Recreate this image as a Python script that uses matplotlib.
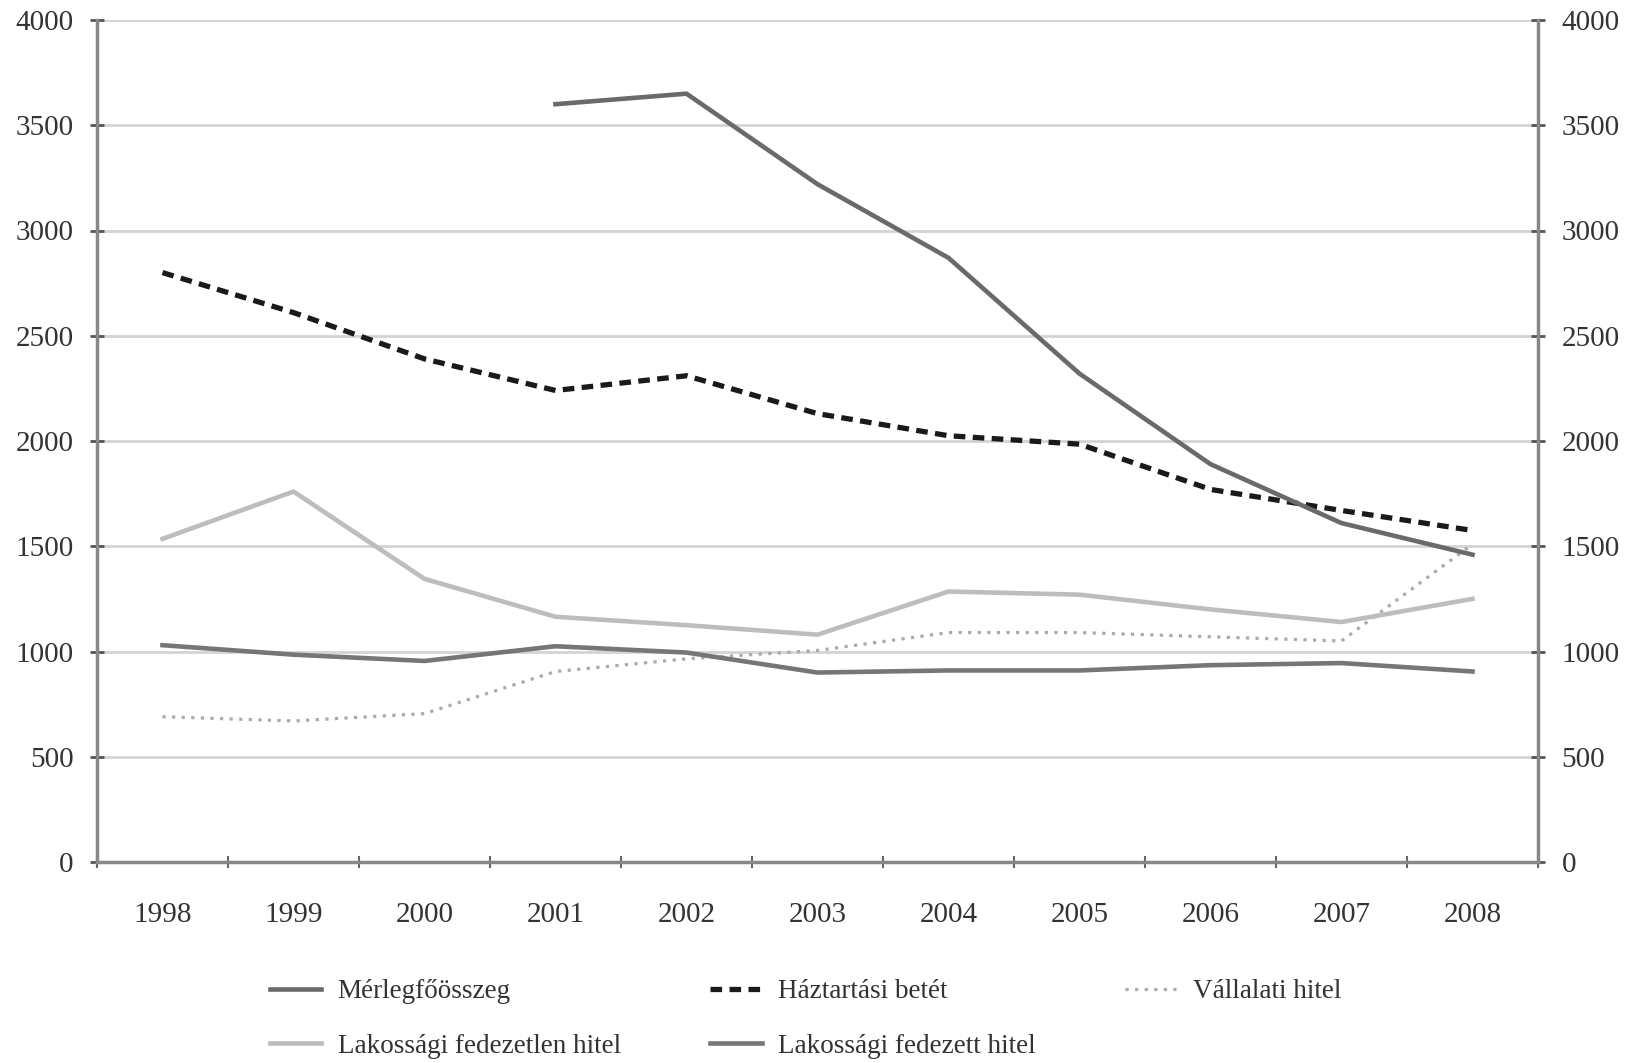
import numpy as np
import matplotlib
matplotlib.use("Agg")
import matplotlib.pyplot as plt
from matplotlib.ticker import FixedLocator

years = ["1998", "1999", "2000", "2001", "2002", "2003", "2004", "2005", "2006", "2007", "2008"]
merlegfoosszeg = [np.nan, np.nan, np.nan, 3600, 3650, 3220, 2870, 2320, 1890, 1610, 1460]
haztartasi_betet = [2800, 2610, 2390, 2240, 2310, 2130, 2025, 1985, 1770, 1670, 1575]
vallalati_hitel = [690, 670, 705, 905, 965, 1005, 1090, 1090, 1070, 1050, 1510]
fedezetlen_hitel = [1535, 1760, 1345, 1165, 1125, 1080, 1285, 1270, 1200, 1140, 1250]
fedezett_hitel = [1030, 985, 955, 1025, 995, 900, 910, 910, 935, 945, 905]

plt.rcParams["font.family"] = ["Liberation Serif", "DejaVu Serif"]

fig = plt.figure(figsize=(16.35, 10.63), dpi=100)
ax = fig.add_axes([97 / 1635, 1 - 862 / 1063, (1538 - 97) / 1635, (862 - 20) / 1063])

x = np.arange(len(years))
h_merleg, = ax.plot(x, merlegfoosszeg, color="#6a6a6a", lw=3.3, solid_joinstyle="round",
                    label="Mérlegfőösszeg", zorder=5)
h_betet, = ax.plot(x, haztartasi_betet, color="#1a1a1a", lw=3.8, ls=(0, (2.2, 1.4)),
                   label="Háztartási betét", zorder=4)
h_vall, = ax.plot(x, vallalati_hitel, color="#aaaaaa", lw=2.3, ls=(0, (1, 2.0)),
                  label="Vállalati hitel", zorder=3)
h_fedezetlen, = ax.plot(x, fedezetlen_hitel, color="#bdbdbd", lw=3.3,
                        label="Lakossági fedezetlen hitel", zorder=3)
h_fedezett, = ax.plot(x, fedezett_hitel, color="#767676", lw=3.3,
                      label="Lakossági fedezett hitel", zorder=3)

ax.set_xlim(-0.5, len(years) - 0.5)
ax.set_ylim(0, 4000)
ax.set_yticks(np.arange(0, 4001, 500))
ax.yaxis.grid(True, color="#d4d4d4", lw=2.0)
ax.set_axisbelow(True)

ax.set_xticks(x)
ax.set_xticklabels(years)
ax.xaxis.set_minor_locator(FixedLocator(np.arange(-0.5, len(years), 1.0)))
ax.tick_params(axis="x", which="major", length=0, pad=29, labelsize=21, labelcolor="#333333")
ax.tick_params(axis="x", which="minor", length=8, width=1.5, direction="inout", color="#666666")
ax.tick_params(axis="y", which="major", length=10, width=2, direction="inout", color="#555555",
               left=True, right=True, labelleft=True, labelright=True, labelsize=21,
               labelcolor="#333333", pad=12)

for side in ("left", "right", "bottom"):
    ax.spines[side].set_color("#888888")
    ax.spines[side].set_linewidth(2.5)
ax.spines["top"].set_visible(False)

handles = [h_merleg, h_fedezetlen, h_betet, h_fedezett, h_vall]
fig.legend(handles=handles, labels=[h.get_label() for h in handles], ncol=3,
           loc="upper left", bbox_to_anchor=(270 / 1635, 1 - 979 / 1063),
           frameon=False, fontsize=19.5, handlelength=1.9, handletextpad=0.6,
           columnspacing=3.3, labelspacing=1.1, labelcolor="#333333",
           borderaxespad=0, borderpad=0)

fig.savefig("out.png", dpi=100, facecolor="white")
